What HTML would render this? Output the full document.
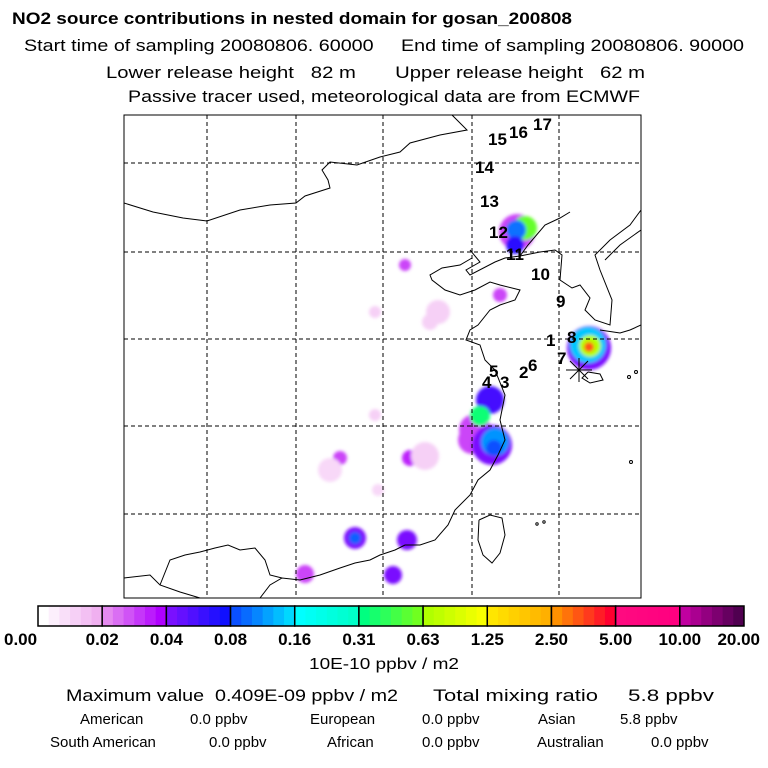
<!DOCTYPE html>
<html><head><meta charset="utf-8"><style>
body{margin:0;background:#fff;}
svg{display:block;font-family:"Liberation Sans",sans-serif;}
text{white-space:pre;}
</style></head><body>
<svg id="chart" width="768" height="768" viewBox="0 0 768 768">
<defs>
<filter id="bl" x="-50%" y="-50%" width="200%" height="200%"><feGaussianBlur stdDeviation="1.5"/></filter>
<clipPath id="mapclip"><rect x="124" y="115" width="517" height="483"/></clipPath>
</defs>
<g>
<text x="12" y="24" font-size="17" font-weight="bold" textLength="560" lengthAdjust="spacingAndGlyphs">NO2 source contributions in nested domain for gosan_200808</text>
<text x="24" y="51" font-size="17" textLength="720" lengthAdjust="spacingAndGlyphs">Start time of sampling 20080806. 60000     End time of sampling 20080806. 90000</text>
<text x="106" y="78" font-size="17" textLength="539" lengthAdjust="spacingAndGlyphs">Lower release height   82 m       Upper release height   62 m</text>
<text x="128" y="102" font-size="17" textLength="512" lengthAdjust="spacingAndGlyphs">Passive tracer used, meteorological data are from ECMWF</text>
</g>
<g clip-path="url(#mapclip)">
<g id="plumes" filter="url(#bl)"></g>
<g id="grid"></g>
<g fill="none" stroke="#000" stroke-width="1">
<polyline points="124,203 153,212 183,218 207,221 240,210 270,205 296,203 305,196 330,188 328,180 322,170 330,162 357,165 380,157 400,152 410,143 440,135 467,130 452,115"/>
<polyline points="470,250 480,262 466,270 470,275 495,262 505,258 520,256 540,252 555,250 562,255 560,280 572,288 580,285 590,298 585,310 595,320 610,325 612,300 600,270 595,255 610,240 630,225 641,210"/>
<polyline points="641,230 620,245 605,260"/>
<polyline points="520,256 528,245 545,225 560,218 570,212"/>
<polyline points="472,258 460,265 442,268 430,275 432,280 445,290 460,295 475,290 490,282 500,285 520,290 515,300 500,305 490,310 478,325 470,330 466,340 480,345 485,360 495,370 505,395 500,420 505,440 498,455 490,470 478,480 470,495 455,510 448,525 435,540 420,545 405,545 395,550 380,555 370,560 355,563 340,568 320,575 300,580 282,578 270,585 260,598"/>
<polyline points="124,578 150,575 160,585 180,592 200,598"/>
<polyline points="160,585 170,560 185,555 200,552 215,548 228,545 240,550 255,548 265,560 270,575 282,578"/>
<polyline points="479,520 490,515 502,518 505,535 500,553 492,563 483,555 478,540 479,520"/>
<polyline points="588,372 600,374 603,380 590,383 582,378 588,372"/>
<polyline points="600,330 620,333 630,330 641,325"/>
</g>
<g fill="none" stroke="#000">
<circle cx="629" cy="377" r="1.5"/><circle cx="636" cy="372" r="1.5"/><circle cx="631" cy="462" r="1.5"/><circle cx="537" cy="524" r="1.2"/><circle cx="544" cy="522" r="1.2"/>
</g>
<g stroke="#000" stroke-width="1">
<line x1="566" y1="370" x2="592" y2="370"/><line x1="579" y1="358" x2="579" y2="382"/><line x1="570" y1="361" x2="588" y2="379"/><line x1="588" y1="361" x2="570" y2="379"/>
</g>
<g id="labels" font-size="17" font-weight="bold"></g>
</g>
<rect x="124" y="115" width="517" height="483" fill="none" stroke="#000" stroke-width="1"/>
<g id="cbar"></g>
<text x="384" y="669" font-size="16" text-anchor="middle" textLength="150" lengthAdjust="spacingAndGlyphs">10E-10 ppbv / m2</text>
<g font-size="17">
<text y="701"><tspan x="66" textLength="332" lengthAdjust="spacingAndGlyphs">Maximum value  0.409E-09 ppbv / m2</tspan><tspan x="433" textLength="165" lengthAdjust="spacingAndGlyphs">Total mixing ratio</tspan><tspan x="628" textLength="86" lengthAdjust="spacingAndGlyphs">5.8 ppbv</tspan></text>
<text font-size="15" y="724"><tspan x="80">American</tspan><tspan x="190">0.0 ppbv</tspan><tspan x="310">European</tspan><tspan x="422">0.0 ppbv</tspan><tspan x="538">Asian</tspan><tspan x="620">5.8 ppbv</tspan></text>
<text font-size="15" y="747"><tspan x="50">South American</tspan><tspan x="209">0.0 ppbv</tspan><tspan x="327">African</tspan><tspan x="422">0.0 ppbv</tspan><tspan x="537">Australian</tspan><tspan x="651">0.0 ppbv</tspan></text>
</g>
</svg>
<script>
const NS="http://www.w3.org/2000/svg";
const levelLabels=["0.00","0.02","0.04","0.08","0.16","0.31","0.63","1.25","2.50","5.00","10.00","20.00"];
const segStart=["#ffffff","#e58af0","#7a10ff","#0a50ff","#00ffff","#00ff80","#b0ff00","#ffe600","#ff9000","#ff0a80","#c000a0"];
const segEnd=["#f0b0f0","#b000ff","#1010ff","#00d8ff","#00ffc8","#70ff20","#f8ff00","#ffb000","#ff0030","#ff0080","#500050"];
const lonLines=[207,296,383,472,559];
const latLines=[163,252,339,426,514];
const trajLabels=["15","16","17","14","13","12","11","10","9","1","8","7","5","2","6","4","3"];
const trajLabelPos=[[488,145],[509,138],[533,130],[475,173],[480,207],[489,238],[506,260],[531,280],[556,307],[546,346],[567,343],[557,364],[489,377],[519,378],[528,371],[482,388],[500,388]];
// plume cells: x, y, radius, concentration (drawn in order, outer halos first)
const plumeX=[517,525,516,515,405,500,589,588,590,589,490,475,480,472,492,495,494,340,410,375,355,355,407,393,305,438,375,425,330,430,378];
const plumeY=[232,228,230,245,265,295,348,345,346,347,400,430,416,440,445,442,448,458,458,415,538,538,540,575,574,312,312,456,470,322,490];
const plumeR=[18,12,10,9,6,7,22,18,11,5,14,16,10,14,20,14,8,7,8,6,11,6,10,9,9,12,6,14,12,8,6];
const plumeC=[0.03,0.6,0.1,0.07,0.03,0.03,0.04,0.15,0.7,3.5,0.06,0.03,0.35,0.03,0.04,0.12,0.08,0.03,0.035,0.012,0.04,0.09,0.04,0.04,0.03,0.012,0.012,0.012,0.01,0.012,0.01];
function hex(h){return [1,3,5].map(i=>parseInt(h.substr(i,2),16));}
function mix(a,b,t){const A=hex(a),B=hex(b);return "rgb("+A.map((v,i)=>Math.round(v+(B[i]-v)*t)).join(",")+")";}
const levels=levelLabels.map(Number);
function colorFor(c){
 for(let i=0;i<levels.length-1;i++){
  if(c<levels[i+1]){const t=(c-levels[i])/(levels[i+1]-levels[i]);return mix(segStart[i],segEnd[i],t);}
 }
 return segEnd[segEnd.length-1];
}
const grid=document.getElementById("grid");
lonLines.forEach(x=>{const l=document.createElementNS(NS,"line");
l.setAttribute("x1",x);l.setAttribute("x2",x);l.setAttribute("y1",115);l.setAttribute("y2",598);
l.setAttribute("stroke","#000");l.setAttribute("stroke-dasharray","4,3");


grid.appendChild(l);});
latLines.forEach(y=>{const l=document.createElementNS(NS,"line");
l.setAttribute("x1",124);l.setAttribute("x2",641);l.setAttribute("y1",y);l.setAttribute("y2",y);
l.setAttribute("stroke","#000");l.setAttribute("stroke-dasharray","4,3");


grid.appendChild(l);});
const pl=document.getElementById("plumes");
plumeX.forEach((x,i)=>{const c=document.createElementNS(NS,"circle");
c.setAttribute("cx",x);c.setAttribute("cy",plumeY[i]);c.setAttribute("r",plumeR[i]);
c.setAttribute("fill",colorFor(plumeC[i]));


pl.appendChild(c);});
const lb=document.getElementById("labels");
trajLabels.forEach((t,i)=>{const e=document.createElementNS(NS,"text");
e.setAttribute("x",trajLabelPos[i][0]);e.setAttribute("y",trajLabelPos[i][1]);e.textContent=t;


lb.appendChild(e);});
const cb=document.getElementById("cbar");
const X0=38,X1=744,Y0=606,H=20,nSeg=segStart.length,segW=(X1-X0)/nSeg,sub=6;
for(let s=0;s<nSeg;s++){
 for(let k=0;k<sub;k++){const r=document.createElementNS(NS,"rect");
  r.setAttribute("x",X0+s*segW+k*segW/sub);r.setAttribute("y",Y0);r.setAttribute("width",segW/sub+0.5);r.setAttribute("height",H);
  r.setAttribute("fill",mix(segStart[s],segEnd[s],k/(sub-1)));
  
  
  cb.appendChild(r);}
 const b=document.createElementNS(NS,"rect");
 b.setAttribute("x",X0+s*segW);b.setAttribute("y",Y0);b.setAttribute("width",segW);b.setAttribute("height",H);
 b.setAttribute("fill","none");b.setAttribute("stroke","#000");b.setAttribute("stroke-width","1.5");
 
 
 cb.appendChild(b);
}
levelLabels.forEach((t,i)=>{const e=document.createElementNS(NS,"text");
 e.setAttribute("x",X0+i*segW);e.setAttribute("y",645);e.setAttribute("font-size","17");e.setAttribute("font-weight","bold");
 e.setAttribute("text-anchor",i==0?"start":(i==levelLabels.length-1?"end":"middle"));
 if(i==0)e.setAttribute("x",4);if(i==levelLabels.length-1)e.setAttribute("x",760);
 e.textContent=t;
 
 
 cb.appendChild(e);});
</script>
</body></html>
